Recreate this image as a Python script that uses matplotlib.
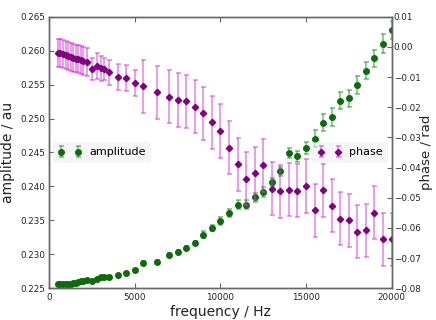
import numpy as np
import matplotlib
matplotlib.use("Agg")
import matplotlib.pyplot as plt

freq = [500, 650, 800, 950, 1100, 1250, 1400, 1550, 1700, 1850, 2000, 2200,
        2500, 2800, 3000, 3200, 3500, 4000, 4500, 5000, 5500, 6300,
        7000, 7500, 8000, 8500, 9000, 9500, 10000, 10500, 11000, 11500,
        12000, 12500, 13000, 13500, 14000, 14500, 15000, 15500, 16000,
        16500, 17000, 17500, 18000, 18500, 19000, 19500, 20000]

amplitude = [0.22568, 0.22563, 0.22563, 0.22565, 0.22568, 0.22570, 0.22576,
             0.22585, 0.22593, 0.22605, 0.22615, 0.22620, 0.22614, 0.22640,
             0.22660, 0.22668, 0.22671, 0.22696, 0.22725, 0.22776, 0.22877,
             0.22887, 0.22993, 0.23030, 0.23094, 0.23167, 0.23288, 0.23388,
             0.23495, 0.23610, 0.23730, 0.23730, 0.23843, 0.23920, 0.24060,
             0.24220, 0.24490, 0.24445, 0.24570, 0.24702, 0.24940, 0.25020,
             0.25262, 0.25295, 0.25494, 0.25706, 0.25886, 0.26102, 0.26303]

amplitude_err = [0.00015] * 20 + [0.0003, 0.0003, 0.0003, 0.0003, 0.0003,
                                  0.00035, 0.0005, 0.0005, 0.0006, 0.00065,
                                  0.00065, 0.00065, 0.00065, 0.00072, 0.0006,
                                  0.00066, 0.00075, 0.0008, 0.0009, 0.00123,
                                  0.00123, 0.00128, 0.00125, 0.00128, 0.0013,
                                  0.0013, 0.0013, 0.00137, 0.00137]

phase = [-0.0020, -0.0021, -0.0024, -0.0027, -0.0030, -0.0034, -0.0037,
         -0.0039, -0.0041, -0.0044, -0.0047, -0.0051, -0.0073, -0.0064,
         -0.0071, -0.0073, -0.0084, -0.0100, -0.0103, -0.0120, -0.0130,
         -0.0150, -0.0165, -0.0176, -0.0180, -0.0199, -0.0220, -0.0250,
         -0.0279, -0.0334, -0.0389, -0.0437, -0.0419, -0.0393, -0.0470,
         -0.0478, -0.0474, -0.0476, -0.0461, -0.0541, -0.0475, -0.0526,
         -0.0570, -0.0574, -0.0613, -0.0608, -0.0549, -0.0637, -0.0637]

phase_err = [0.0046] * 12 + [0.0037, 0.0043, 0.0041, 0.0036, 0.0042, 0.0044,
                             0.0043, 0.0044] + [0.0088] * 29

green = "#0d6b0d"
purple = "#800080"
spine_col = "#666666"

fig = plt.figure(figsize=(4.36, 3.2), dpi=100)
ax = fig.add_axes([0.113, 0.099, 0.785, 0.849])
ax2 = ax.twinx()

ax.errorbar(freq, amplitude, yerr=amplitude_err, fmt="o", color=green,
            ecolor=(0.1, 0.55, 0.1, 0.6), ms=4.0, mec=green, elinewidth=1.1,
            capsize=1.8, capthick=1.1, label="amplitude")
ax2.errorbar(freq, phase, yerr=phase_err, fmt="D", color=purple,
             ecolor=(0.82, 0.2, 0.82, 0.6), ms=3.2, mec=purple, elinewidth=1.1,
             capsize=1.8, capthick=1.1, label="phase")

ax.set_xlim(0, 20000)
ax.set_ylim(0.225, 0.265)
ax2.set_ylim(-0.08, 0.01)
ax.set_xticks([0, 5000, 10000, 15000, 20000])
ax.set_yticks(np.arange(0.225, 0.2651, 0.005))
ax2.set_yticks(np.arange(-0.08, 0.0101, 0.01))

for a in (ax, ax2):
    for s in a.spines.values():
        s.set_color(spine_col)
        s.set_linewidth(1.0)
    a.tick_params(direction="in", length=3.5, width=0.8, color=spine_col,
                  labelsize=6.3, labelcolor="#222222")
ax.tick_params(axis="x", top=True, pad=3.5)
ax.tick_params(axis="y", pad=3)
ax2.tick_params(axis="y", pad=1.5)

ax.set_xlabel("frequency / Hz", fontsize=10, color="#222222", labelpad=2)
ax.set_ylabel("amplitude / au", fontsize=10, color="#222222")
ax2.set_ylabel("phase / rad", fontsize=9.5, color="#222222")
ax.yaxis.set_label_coords(-0.100, 0.5)
ax2.yaxis.set_label_coords(1.083, 0.5)

leg_kw = dict(numpoints=2, fontsize=8, handlelength=2.1, handletextpad=0.7,
              borderpad=0.5, borderaxespad=0.3, frameon=True,
              facecolor="#f0f0f0", edgecolor="none", framealpha=0.6)
ax.legend(loc="center left", **leg_kw)
ax2.legend(loc="center right", **leg_kw)

fig.savefig("out.png", dpi=100)
